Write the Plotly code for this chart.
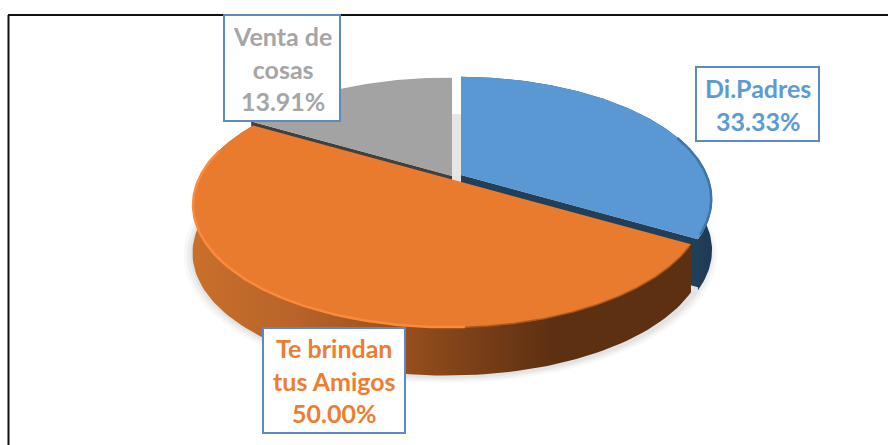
import numpy as np
import plotly.graph_objects as go

categories = ["Di.Padres", "Te brindan<br>tus Amigos", "Venta de<br>cosas"]
slice_shares = [33.33, 50.00, 16.67]      # drawn angle of each slice
label_percents = ["33.33%", "50.00%", "13.91%"]  # printed labels in the source
top_colors = ["#5A98D4", "#E97B2F", "#A3A3A3"]
text_colors = ["#5B9BD5", "#ED7D31", "#A5A5A5"]
cut_colors = ["#223F59", "#5E3012", "#404040"]
offsets = [(5, -3), (-2, 2), (-4, -2)]
box_x = [(696, 819), (263, 405), (224, 340)]
box_y = [(67, 141), (328, 433), (15, 121)]

CX, CY, A, B, K, K2, DEPTH = 456, 178, 251, 118, 0.2, 0.02, 48


def project(theta_deg, off=(0, 0), scale=1.0):
    t = np.radians(theta_deg)
    u, v = np.sin(t) * scale, np.cos(t) * scale
    w = 1 + K * v + K2 * u
    return CX + off[0] + A * u / w, CY + off[1] - B * v / w


def arc(a0, a1, off=(0, 0), scale=1.0, n=120):
    return project(np.linspace(a0, a1, n), off, scale)


def poly(fig, x, y, color=None, grad=None, line=None, width=0):
    kw = dict(x=list(x), y=list(y), mode="lines", hoverinfo="skip", showlegend=False)
    if color is not None or grad is not None:
        kw["fill"] = "toself"
        if grad is not None:
            kw["fillgradient"] = dict(type="horizontal", colorscale=grad)
        else:
            kw["fillcolor"] = color
    kw["line"] = dict(color=line or "rgba(0,0,0,0)", width=width)
    fig.add_trace(go.Scatter(**kw))


edges = np.concatenate([[0], np.cumsum(slice_shares)]) / sum(slice_shares) * 360
blue = (edges[0], edges[1])
orange = (edges[1], edges[2])
gray = (edges[2], edges[3])
ob, oo, og = offsets

fig = go.Figure()

# soft ground shadow
for grow, alpha in [(10, 0.05), (7, 0.07), (4, 0.09)]:
    xs, ys = arc(0, 360, (0, DEPTH + 2), 1 + grow / 256)
    poly(fig, xs, ys, f"rgba(120,120,120,{alpha})")

# gray slice
gx, gy = arc(*gray, og)
apx, apy = CX + og[0], CY + og[1]
rx, ry = project(gray[0], og)
poly(fig, [apx, apx + 10, apx + 10, apx], [apy, apy, apy - 62, apy - 62], "#E6E6E6")
poly(fig, [apx, rx, rx, apx], [apy, ry, ry + DEPTH, apy + DEPTH], cut_colors[2])
poly(fig, list(gx) + [apx], list(gy) + [apy], top_colors[2])

# blue slice
bx, by = arc(*blue, ob)
bxl, byl = arc(*blue, (ob[0], ob[1] + DEPTH + 3))
poly(fig, list(bx) + list(bxl[::-1]), list(by) + list(byl[::-1]),
     grad=[[0, "#2C5172"], [0.7, "#2A4D6C"], [1, "#1F3A53"]])
apx, apy = CX + ob[0], CY + ob[1]
rx, ry = project(blue[1], ob)
poly(fig, [apx, rx, rx, apx], [apy, ry, ry + DEPTH, apy + DEPTH], cut_colors[0])
poly(fig, list(bx) + [apx], list(by) + [apy], top_colors[0])
rx1, ry1 = arc(70, 118, ob, 0.997)
poly(fig, rx1, ry1, line="#3F74A5", width=2.5)

# orange slice
ox, oy = arc(*orange, oo)
oxl, oyl = arc(*orange, (oo[0], oo[1] + DEPTH))
poly(fig, list(ox) + list(oxl[::-1]), list(oy) + list(oyl[::-1]),
     grad=[[0, "#C96F2B"], [0.2, "#B8642A"], [0.38, "#A05420"], [0.55, "#7D4118"],
           [0.72, "#5E3012"], [1, "#5E3012"]])
apx, apy = CX + oo[0], CY + oo[1]
poly(fig, list(ox) + [apx], list(oy) + [apy], top_colors[1])
rx3, ry3 = arc(178, 285, oo, 0.998)
poly(fig, rx3, ry3, line="#FB8B3C", width=2.5)
rx4, ry4 = arc(121, 178, oo, 1.0)
poly(fig, rx4, ry4, line="#A85A22", width=1.5)

shapes = [
    dict(type="line", x0=8.5, x1=8.5, y0=15, y1=445, line=dict(color="#111111", width=2)),
    dict(type="line", x0=8, x1=888, y0=15, y1=15, line=dict(color="#111111", width=2)),
]
annotations = []
for cat, pct, col, (x0, x1), (y0, y1) in zip(categories, label_percents, text_colors, box_x, box_y):
    shapes.append(dict(type="rect", x0=x0, x1=x1, y0=y0, y1=y1, fillcolor="white",
                       line=dict(color="#5B8AC6", width=2)))
    annotations.append(dict(x=(x0 + x1) / 2, y=(y0 + y1) / 2, xref="x", yref="y",
                            text=f"<b>{cat}<br>{pct}</b>", showarrow=False, align="center",
                            font=dict(family="Lato", size=25, color=col)))

fig.update_layout(
    width=888, height=445, margin=dict(l=0, r=0, t=0, b=0),
    paper_bgcolor="white", plot_bgcolor="white", showlegend=False,
    xaxis=dict(range=[0, 888], visible=False, fixedrange=True),
    yaxis=dict(range=[445, 0], visible=False, fixedrange=True),
    shapes=shapes, annotations=annotations,
)
fig.write_html("out.html", config={"displayModeBar": False},
               post_script="document.body.style.margin='0';document.documentElement.style.overflow='hidden';")
